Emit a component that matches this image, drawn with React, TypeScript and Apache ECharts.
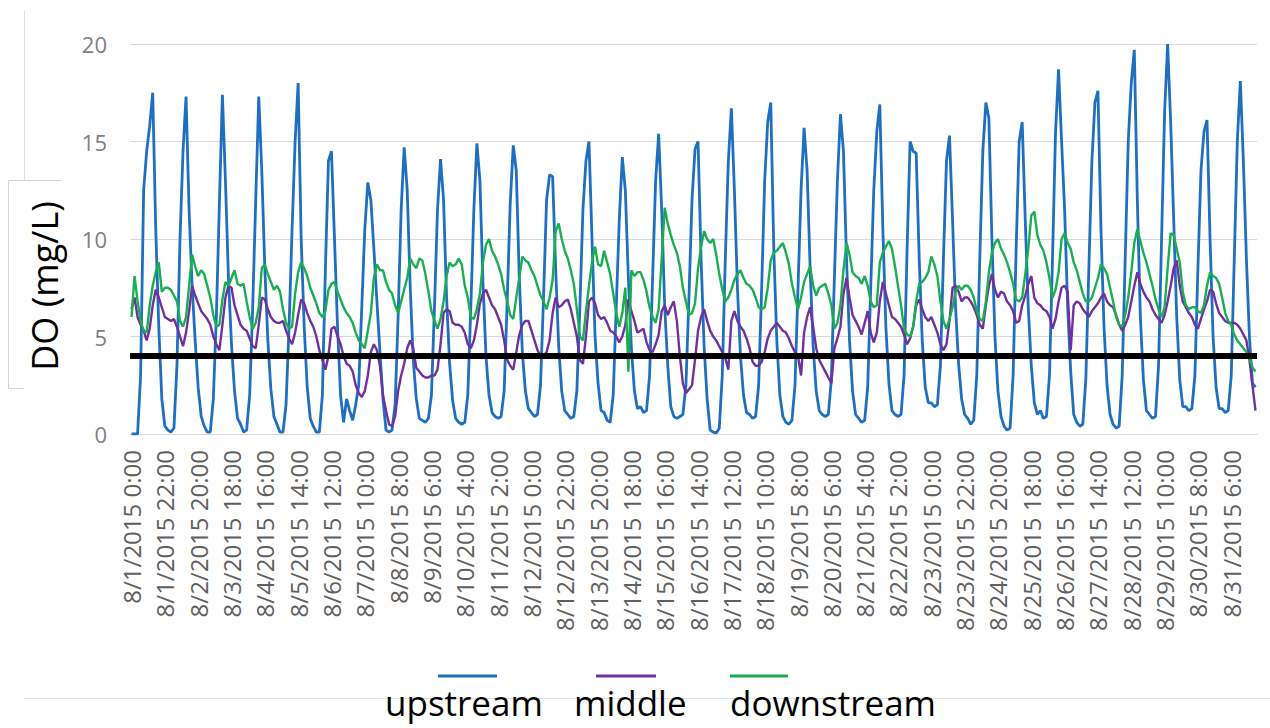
import { useEffect, useRef } from "react";
import * as echarts from "echarts";

// Dissolved oxygen (mg/L) at three stations, one reading every 2 hours,
// starting 8/1/2015 0:00 (12 readings per day, one row per day).
const START_DAY = 1;
const STEP_HOURS = 2;
const LABEL_EVERY_HOURS = 22;

const upstream = [
  0, 0, 0, 3.0, 12.5, 14.5, 15.8, 17.5, 10.5, 5.5, 1.8, 0.4,
  0.2, 0.1, 0.3, 3.5, 10.0, 14.5, 17.3, 11.5, 7.6, 4.8, 2.4, 0.9,
  0.4, 0.1, 0.1, 1.8, 6.0, 11.8, 17.4, 13.0, 8.0, 4.6, 2.2, 0.8,
  0.5, 0.1, 0.2, 2.0, 6.5, 12.0, 17.3, 13.5, 8.5, 4.8, 2.3, 0.9,
  0.5, 0.1, 0.1, 1.5, 5.5, 10.5, 15.0, 18.0, 10.0, 5.5, 2.4, 0.8,
  0.4, 0.1, 0.1, 2.0, 8.5, 14.0, 14.5, 10.0, 5.5, 2.0, 0.6, 1.8,
  1.2, 0.7, 1.5, 2.5, 6.5, 10.5, 12.9, 12.0, 9.5, 6.8, 4.2, 1.8,
  0.2, 0.1, 0.2, 1.5, 6.0, 11.5, 14.7, 12.5, 7.5, 3.8, 1.8, 0.8,
  0.7, 0.6, 0.8, 2.0, 6.5, 11.5, 14.1, 12.0, 7.0, 3.6, 1.7, 0.8,
  0.6, 0.5, 0.6, 2.0, 6.5, 11.5, 14.9, 13.0, 7.8, 4.0, 2.0, 1.1,
  0.9, 0.8, 0.9, 2.2, 6.8, 11.8, 14.8, 13.5, 8.0, 4.2, 2.2, 1.3,
  1.1, 0.9, 1.0, 2.5, 7.0, 12.0, 13.3, 13.2, 8.5, 4.5, 2.2, 1.2,
  1.0, 0.8, 0.9, 2.2, 6.5, 11.5, 14.0, 15.0, 10.0, 5.0, 2.6, 1.2,
  1.1, 0.7, 0.6, 2.0, 6.5, 11.0, 14.2, 12.5, 8.0, 4.4, 2.2, 1.3,
  1.4, 1.1, 1.2, 3.0, 8.0, 13.0, 15.4, 11.5, 6.5, 3.5, 1.4, 0.9,
  0.8, 0.9, 1.0, 2.5, 7.0, 12.0, 14.6, 15.0, 9.0, 4.5, 1.8, 0.2,
  0.1, 0.05, 0.3, 3.0, 9.0, 14.0, 16.7, 12.5, 7.5, 4.0, 2.0, 1.1,
  1.0, 0.8, 0.9, 2.5, 7.5, 13.0, 16.0, 17.0, 9.5, 4.8, 2.0, 0.9,
  0.6, 0.5, 0.7, 2.5, 7.5, 12.5, 15.7, 13.5, 8.5, 4.5, 2.2, 1.2,
  1.0, 0.9, 1.0, 2.8, 8.0, 13.0, 16.4, 14.5, 9.0, 4.8, 2.2, 1.0,
  0.8, 0.6, 0.7, 2.4, 7.5, 12.5, 15.5, 16.9, 10.5, 5.5, 2.6, 1.2,
  1.0, 0.9, 1.0, 3.0, 9.5, 15.0, 14.5, 14.4, 9.0, 4.8, 2.4, 1.6,
  1.6, 1.4, 1.5, 3.5, 9.0, 14.0, 15.3, 11.0, 6.5, 3.6, 1.8, 1.0,
  0.8, 0.5, 0.7, 3.0, 9.0, 14.5, 17.0, 16.2, 10.0, 5.0, 2.2, 0.9,
  0.4, 0.2, 0.3, 3.0, 9.5, 15.0, 16.0, 11.0, 6.5, 3.5, 1.6, 1.0,
  1.2, 0.8, 0.9, 3.0, 9.0, 15.5, 18.7, 15.0, 11.5, 6.5, 3.2, 1.0,
  0.6, 0.4, 0.5, 2.8, 8.5, 14.0, 17.0, 17.6, 10.5, 5.5, 2.5, 1.0,
  0.5, 0.3, 0.4, 3.0, 9.0, 15.0, 18.0, 19.7, 12.0, 6.0, 2.8, 1.2,
  1.0, 0.8, 0.9, 3.5, 10.0, 16.5, 20.0, 16.0, 11.0, 6.0, 2.8, 1.4,
  1.4, 1.2, 1.3, 3.0, 8.5, 13.5, 15.5, 16.1, 10.0, 5.0, 2.4, 1.3,
  1.3, 1.1, 1.2, 3.0, 9.0, 15.0, 18.1, 14.0, 9.0, 5.0, 2.6, 2.4,
];

const middle = [
  6.4, 7.0, 6.0, 5.6, 5.3, 4.8, 5.4, 6.6, 7.4, 7.0, 6.5, 6.0,
  5.9, 5.8, 5.9, 5.5, 5.0, 4.5, 5.2, 6.3, 7.6, 7.1, 6.7, 6.3,
  6.1, 5.9, 5.6, 5.0, 4.6, 4.3, 5.6, 7.0, 7.6, 7.5, 6.6, 6.1,
  5.6, 5.4, 5.3, 4.9, 4.5, 4.4, 5.6, 7.0, 6.9, 6.4, 6.0, 5.8,
  5.7, 5.7, 5.8, 5.3, 4.9, 4.6, 5.2, 6.1, 6.9, 6.7, 6.2, 5.8,
  5.5, 5.0, 4.3, 3.8, 3.3, 4.0, 5.4, 5.5, 5.0, 4.6, 4.0, 3.6,
  3.5, 3.2, 2.5, 2.1, 1.9, 2.2, 3.0, 4.2, 4.6, 4.3, 3.5, 2.0,
  1.2, 0.5, 0.4, 0.9, 2.2, 3.0, 3.6, 4.4, 4.8, 4.4, 3.4, 3.2,
  3.0, 2.9, 2.9, 3.0, 3.0, 3.3, 4.6, 6.2, 6.4, 6.3, 5.7, 5.6,
  5.6, 5.5, 5.2, 4.6, 4.4, 4.8, 5.6, 6.7, 7.2, 7.4, 7.0, 6.6,
  6.4, 6.0, 5.6, 4.8, 3.8, 3.5, 3.3, 4.2, 5.1, 5.6, 5.8, 5.8,
  5.3, 4.8, 4.3, 4.0, 4.0, 4.2, 4.8, 6.2, 7.0, 6.5, 6.6, 6.8,
  6.9, 6.4, 5.7, 5.0, 3.8, 3.6, 5.0, 6.8, 7.0, 6.7, 6.1, 5.9,
  6.0, 5.7, 5.3, 5.2, 5.0, 4.7, 5.0, 5.6, 6.9, 6.3, 5.8, 5.2,
  5.3, 5.4, 4.7, 4.3, 4.2, 4.6, 5.1, 6.3, 6.6, 6.1, 6.5, 6.8,
  5.8, 4.0, 2.6, 2.1, 2.3, 2.5, 3.8, 5.3, 6.0, 6.4, 5.8, 5.3,
  5.0, 4.8, 4.5, 4.2, 3.9, 3.3, 5.8, 6.3, 5.8, 5.5, 5.3, 4.9,
  4.4, 3.7, 3.5, 3.5, 3.7, 4.2, 4.9, 5.3, 5.5, 5.7, 5.5, 5.3,
  5.2, 4.9, 4.5, 4.2, 4.0, 3.0, 5.2, 6.0, 6.5, 5.5, 4.4, 3.8,
  3.5, 3.2, 2.9, 2.6, 4.4, 4.9, 5.5, 7.2, 8.0, 7.0, 6.1, 5.8,
  5.5, 5.1, 5.7, 6.3, 5.2, 4.7, 5.2, 6.8, 7.8, 7.2, 6.6, 6.0,
  5.9, 5.7, 5.5, 5.1, 4.6, 4.9, 5.5, 6.6, 6.9, 6.4, 6.0, 5.8,
  6.0, 5.6, 5.2, 4.6, 4.3, 4.6, 5.8, 7.5, 7.6, 7.3, 6.8, 7.0,
  7.0, 6.8, 6.5, 6.1, 5.6, 5.4, 6.6, 7.6, 8.2, 7.4, 7.0, 7.3,
  7.2, 6.8, 6.6, 6.3, 5.7, 5.8, 6.6, 7.1, 7.7, 8.1, 7.0, 6.7,
  6.6, 6.4, 6.3, 6.0, 5.4, 5.9, 6.8, 7.5, 7.6, 7.3, 4.3, 6.6,
  6.8, 6.7, 6.4, 6.2, 6.0, 6.3, 6.5, 6.7, 7.0, 7.2, 6.8, 6.6,
  6.5, 6.1, 5.6, 5.3, 5.6, 6.0, 6.8, 7.6, 8.3, 7.7, 7.3, 7.0,
  6.8, 6.4, 6.1, 5.9, 5.7, 6.1, 6.8, 7.6, 8.5, 8.9, 7.6, 6.8,
  6.5, 6.2, 6.0, 5.6, 5.4, 5.9, 6.4, 6.8, 7.4, 7.3, 6.7, 6.2,
  6.0, 5.8, 5.7, 5.7, 5.7, 5.6, 5.4, 5.1, 4.8, 3.8, 2.5, 1.2,
];

const downstream = [
  6.0, 8.1, 6.8, 5.8, 5.3, 5.2, 6.6, 7.6, 8.3, 8.8, 7.3, 7.5,
  7.5, 7.4, 7.1, 6.8, 5.8, 5.5, 6.0, 7.6, 9.2, 8.6, 8.1, 8.4,
  8.2, 7.6, 7.0, 6.1, 5.5, 5.6, 6.9, 7.8, 7.6, 8.0, 8.4, 7.7,
  7.6, 7.7, 6.8, 6.0, 5.4, 5.7, 6.5, 8.5, 8.7, 8.2, 7.8, 7.4,
  7.6, 7.3, 6.4, 5.7, 5.4, 5.5, 7.2, 8.3, 8.8, 8.5, 8.1, 7.5,
  7.1, 6.7, 6.2, 6.0, 6.3, 7.4, 7.7, 7.8, 7.3, 6.9, 6.5, 6.2,
  6.0, 5.7, 5.2, 4.8, 4.6, 4.4, 5.3, 6.2, 8.0, 8.7, 8.4, 8.4,
  7.8, 7.4, 7.2, 6.6, 6.2, 6.8, 7.4, 8.0, 9.0, 8.7, 8.5, 9.0,
  8.9, 8.2, 7.3, 6.3, 5.8, 5.4, 5.9, 6.8, 8.1, 8.8, 8.6, 8.7,
  9.0, 8.7, 7.6, 7.0, 6.0, 5.9, 6.4, 7.2, 8.8, 9.7, 10.0, 9.4,
  9.1, 8.7, 8.2, 7.4, 6.8, 6.1, 5.9, 7.0, 8.0, 9.1, 8.9, 8.8,
  8.4, 8.1, 7.6, 7.1, 6.8, 6.4, 7.0, 7.9, 10.4, 10.8, 10.0, 9.4,
  9.0, 8.4, 7.7, 6.4, 5.0, 4.8, 6.3, 7.6, 8.8, 9.6, 8.7, 8.6,
  9.4, 8.8, 8.2, 7.2, 6.2, 5.5, 6.2, 7.5, 3.2, 8.4, 8.1, 8.3,
  8.3, 7.9, 7.3, 6.5, 6.0, 5.7, 6.4, 9.0, 11.6, 10.8, 10.2, 9.7,
  9.3, 8.6, 7.5, 6.8, 6.1, 6.2, 6.7, 8.5, 9.6, 10.4, 10.0, 9.8,
  10.0, 9.2, 8.2, 7.4, 6.8, 7.0, 7.4, 7.9, 8.2, 8.4, 8.0, 7.7,
  7.6, 7.4, 7.0, 6.5, 6.4, 6.5, 7.5, 8.9, 9.3, 9.4, 9.6, 9.8,
  9.3, 8.7, 7.7, 7.0, 6.4, 7.0, 7.8, 8.2, 8.6, 7.6, 7.1, 7.5,
  7.6, 7.7, 7.2, 6.6, 5.4, 5.7, 6.6, 8.4, 9.8, 9.2, 8.3, 8.1,
  8.0, 7.7, 8.1, 7.6, 6.8, 6.5, 6.6, 8.8, 9.3, 9.6, 9.9, 9.5,
  8.6, 7.6, 6.6, 5.4, 5.1, 5.0, 5.5, 6.8, 7.7, 7.8, 8.0, 8.3,
  9.1, 8.7, 8.1, 6.8, 5.8, 5.4, 5.9, 6.5, 7.3, 7.6, 7.4, 7.6,
  7.6, 7.4, 7.0, 6.3, 5.9, 5.8, 6.8, 8.3, 9.3, 9.8, 10.0, 9.5,
  9.2, 8.8, 8.3, 7.7, 6.9, 6.8, 7.0, 8.2, 9.5, 11.2, 11.4, 10.2,
  9.7, 9.4, 8.8, 8.0, 7.0, 7.4, 8.3, 10.0, 10.3, 9.8, 9.5, 8.8,
  8.4, 7.8, 7.2, 6.8, 6.8, 7.0, 7.5, 8.0, 8.7, 8.5, 8.2, 7.5,
  6.8, 6.0, 5.6, 5.5, 6.1, 7.0, 8.3, 9.8, 10.5, 9.9, 9.3, 8.8,
  8.2, 7.6, 6.9, 6.4, 6.0, 6.5, 8.5, 10.3, 10.2, 9.5, 8.8, 7.3,
  6.6, 6.4, 6.5, 6.5, 6.3, 6.2, 6.6, 7.6, 8.3, 8.1, 8.0, 7.7,
  7.0, 6.2, 5.8, 5.6, 5.1, 4.8, 4.6, 4.4, 4.2, 3.9, 3.4, 3.2,
];

// Minimum DO criterion drawn across the plot
const DO_CRITERION = 4;

const Y_MIN = 0;
const Y_MAX = 20;
const Y_STEP = 5;

const STATIONS = [
  { name: "upstream", data: upstream, color: "#1f6fc0", width: 2.8 },
  { name: "middle", data: middle, color: "#7030a0", width: 2.4 },
  { name: "downstream", data: downstream, color: "#19ae50", width: 2.4 },
];

const FONT = "'Open Sans', 'Liberation Sans', sans-serif";

// "8/1/2015 0:00" style labels for every reading
const timeLabels = upstream.map((_, i) => {
  const h = i * STEP_HOURS;
  return `8/${START_DAY + Math.floor(h / 24)}/2015 ${h % 24}:00`;
});

// Legend: a short colour bar above each station name
const LEGEND_LAYOUT = [
  { bar: [438, 497], textX: 385 },
  { bar: [596, 656], textX: 574 },
  { bar: [730, 788], textX: 730 },
];

export default function App() {
  const ref = useRef<HTMLDivElement>(null);

  useEffect(() => {
    if (!ref.current) return;
    const chart = echarts.init(ref.current, undefined, { renderer: "svg" });

    const series: any[] = STATIONS.map((s, i) => ({
      name: s.name,
      type: "line",
      data: s.data,
      symbol: "none",
      showSymbol: false,
      smooth: false,
      lineStyle: { color: s.color, width: s.width },
      itemStyle: { color: s.color },
      z: 2 + i,
      ...(i === STATIONS.length - 1
        ? {
            markLine: {
              silent: true,
              symbol: ["none", "none"],
              label: { show: false },
              lineStyle: { color: "#000000", width: 6, type: "solid" },
              data: [{ yAxis: DO_CRITERION }],
              z: 10,
            },
          }
        : {}),
    }));

    const legendGraphics: any[] = [];
    STATIONS.forEach((s, i) => {
      const L = LEGEND_LAYOUT[i];
      legendGraphics.push({
        type: "line",
        shape: { x1: L.bar[0], y1: 676, x2: L.bar[1], y2: 676 },
        style: { stroke: s.color, lineWidth: 3 },
      });
      legendGraphics.push({
        type: "text",
        x: L.textX,
        y: 702,
        style: {
          text: s.name,
          fontSize: 35,
          fontFamily: FONT,
          fill: "#000000",
          align: "left",
          verticalAlign: "middle",
          textAlign: "left",
          textVerticalAlign: "middle",
        },
      });
    });

    const option: any = {
      animation: false,
      backgroundColor: "#ffffff",
      textStyle: { fontFamily: FONT },
      grid: { left: 130, right: 13, top: 44, bottom: 294, containLabel: false },
      xAxis: {
        type: "category",
        data: timeLabels,
        boundaryGap: true,
        axisLine: { show: true, lineStyle: { color: "#d9d9d9", width: 1 } },
        axisTick: { show: false },
        splitLine: { show: false },
        axisLabel: {
          interval: LABEL_EVERY_HOURS / STEP_HOURS - 1,
          rotate: 90,
          fontSize: 24,
          fontFamily: FONT,
          color: "#606060",
          margin: 16,
        },
      },
      yAxis: {
        type: "value",
        min: Y_MIN,
        max: Y_MAX,
        interval: Y_STEP,
        axisLine: { show: false },
        axisTick: { show: false },
        axisLabel: { fontSize: 22, fontFamily: FONT, color: "#808080", margin: 23 },
        splitLine: { lineStyle: { color: "#d9d9d9", width: 1 } },
      },
      series,
      graphic: [
        // frame pieces around the plot and the axis-title box
        { type: "line", shape: { x1: 24.5, y1: 10, x2: 24.5, y2: 180 }, style: { stroke: "#e0e0e0", lineWidth: 1 } },
        {
          type: "polyline",
          shape: { points: [[62, 180.5], [8.5, 180.5], [8.5, 388.5], [24.5, 388.5]] },
          style: { stroke: "#d4d4d4", lineWidth: 1, fill: null },
        },
        { type: "line", shape: { x1: 24, y1: 698.5, x2: 1270, y2: 698.5 }, style: { stroke: "#e0e0e0", lineWidth: 1 } },
        {
          type: "text",
          x: 44,
          y: 286,
          rotation: Math.PI / 2,
          style: {
            text: "DO (mg/L)",
            fontSize: 36,
            fontFamily: FONT,
            fill: "#000000",
            align: "center",
            verticalAlign: "middle",
            textAlign: "center",
            textVerticalAlign: "middle",
          },
        },
        ...legendGraphics,
      ],
    };

    chart.setOption(option);
    return () => chart.dispose();
  }, []);

  return (
    <div
      ref={ref}
      style={{ position: "fixed", left: 0, top: 0, width: 1270, height: 728, background: "#fff" }}
    />
  );
}
